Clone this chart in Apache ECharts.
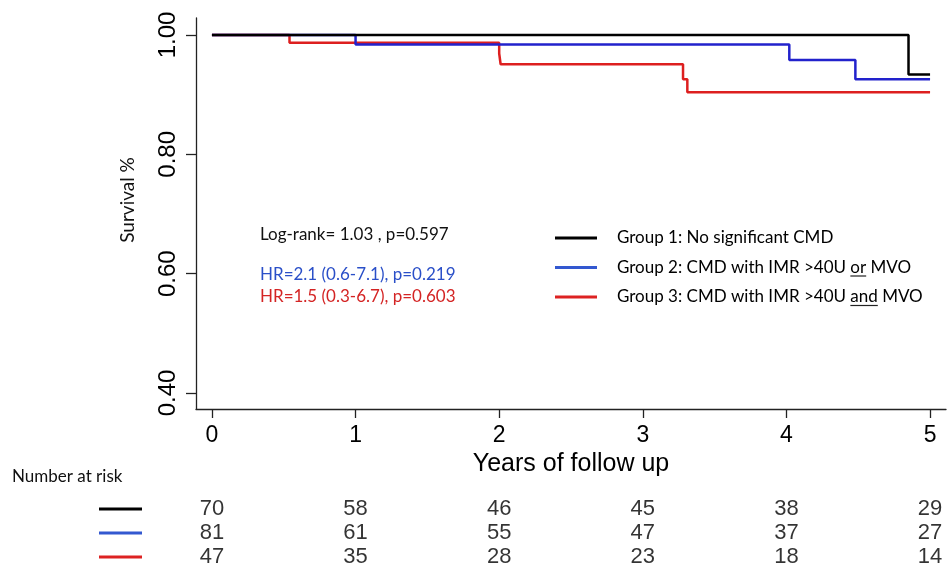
<!DOCTYPE html>
<html>
<head>
<meta charset="utf-8">
<script src="https://cdn.jsdelivr.net/npm/echarts@6/dist/echarts.min.js"></script>
<style>
html,body{margin:0;padding:0;background:#fff;}
#c{width:951px;height:583px;}
</style>
</head>
<body>
<div id="c"></div>
<script>
// ---- data ----
const groupNames = [
  'Group 1: No significant CMD',
  'Group 2: CMD with IMR >40U or MVO',
  'Group 3: CMD with IMR >40U and MVO'
];
const g1Time = [0, 4.85, 5.0];
const g1Surv = [1.0, 0.934, 0.934];
const g2Time = [0, 1.0, 4.02, 4.48, 5.0];
const g2Surv = [1.0, 0.984, 0.958, 0.926, 0.926];
const g3Time = [0, 0.54, 2.0, 2.01, 3.28, 3.31, 5.0];
const g3Surv = [1.0, 0.987, 0.969, 0.951, 0.926, 0.904, 0.904];

const xTicks = [0, 1, 2, 3, 4, 5];
const yTicks = [0.4, 0.6, 0.8, 1.0];
const riskYears = [0, 1, 2, 3, 4, 5];
const riskG1 = [70, 58, 46, 45, 38, 29];
const riskG2 = [81, 61, 55, 47, 37, 27];
const riskG3 = [47, 35, 28, 23, 18, 14];
const riskRows = ['g1', 'g2', 'g3'];

const annotLogRank = 'Log-rank= 1.03 , p=0.597';
const annotHR2 = 'HR=2.1 (0.6-7.1), p=0.219';
const annotHR3 = 'HR=1.5 (0.3-6.7), p=0.603';

// ---- styling ----
const colors = ['#000000', '#2222cc', '#dd1f1f'];
const tableLineColors = ['#000000', '#3358d0', '#dd2222'];
const legendColors = ['#000000', '#3358d0', '#dd2222'];
const helv = 'Liberation Sans, Arial, Helvetica, sans-serif';
const cal = 'Lato, Open Sans, sans-serif';
const xMin = -0.111, xMax = 5.111, yMin = 0.3732, yMax = 1.0285;

const zip = (t, s) => t.map((v, i) => [v, s[i]]);
const kmSeries = [zip(g1Time, g1Surv), zip(g2Time, g2Surv), zip(g3Time, g3Surv)];
const riskData = [riskG1, riskG2, riskG3];

const series = [];
kmSeries.forEach((d, i) => {
  series.push({
    name: groupNames[i], type: 'line', step: 'end', data: d,
    xAxisIndex: 0, yAxisIndex: 0, showSymbol: false, symbol: 'none',
    lineStyle: { color: colors[i], width: 2.5 }, itemStyle: { color: legendColors[i] },
    z: 3 - i + 2
  });
});
riskData.forEach((arr, i) => {
  series.push({
    name: 'risk' + i, type: 'scatter', xAxisIndex: 1, yAxisIndex: 1,
    symbolSize: 0,
    data: riskYears.map((yv, j) => [yv, riskRows[i], arr[j]]),
    label: { show: true, position: 'inside', formatter: p => String(p.value[2]),
      color: '#000', fontFamily: helv, fontSize: 22 },
    itemStyle: { color: 'transparent' }
  });
});

// measure text for underlines
const cv = document.createElement('canvas').getContext('2d');
const legFont = '17px Lato';
cv.font = legFont;
const legTextX = 617;
const rowY = [238, 267.5, 297];
function ul(prefix, word, row) {
  const x0 = legTextX + cv.measureText(prefix).width;
  const x1 = x0 + cv.measureText(word).width;
  return { type: 'line', shape: { x1: x0, y1: rowY[row] + 8.5, x2: x1, y2: rowY[row] + 8.5 },
    style: { stroke: '#222', lineWidth: 1.2 }, silent: true };
}

const chart = echarts.init(document.getElementById('c'), null, { renderer: 'canvas' });
chart.setOption({
  animation: false,
  backgroundColor: '#fff',
  grid: [
    { left: 196, right: 5, top: 18, bottom: 174 },
    { left: 196, right: 5, top: 497, height: 72 }
  ],
  xAxis: [
    { type: 'value', gridIndex: 0, min: xMin, max: xMax,
      axisLine: { show: true, onZero: false, lineStyle: { color: '#222', width: 1.3 } },
      axisTick: { show: true, customValues: xTicks, length: 9, lineStyle: { color: '#222', width: 1.3 } },
      axisLabel: { customValues: xTicks, margin: 15, color: '#000', fontFamily: helv, fontSize: 23 },
      splitLine: { show: false },
      name: 'Years of follow up', nameLocation: 'middle', nameGap: 41,
      nameTextStyle: { color: '#000', fontFamily: helv, fontSize: 25 } },
    { type: 'value', gridIndex: 1, min: xMin, max: xMax, show: false }
  ],
  yAxis: [
    { type: 'value', gridIndex: 0, min: yMin, max: yMax,
      axisLine: { show: true, onZero: false, lineStyle: { color: '#222', width: 1.3 } },
      axisTick: { show: true, customValues: yTicks, length: 10, lineStyle: { color: '#222', width: 1.3 } },
      axisLabel: { customValues: yTicks, rotate: 90, margin: 16, color: '#000', fontFamily: helv, fontSize: 24,
        formatter: v => v.toFixed(2) },
      splitLine: { show: false } },
    { type: 'category', gridIndex: 1, data: riskRows, inverse: true,
      axisLine: { show: false }, axisTick: { show: false }, splitLine: { show: false },
      axisLabel: { margin: 54, formatter: v => '{' + v + '|}',
        rich: {
          g1: { backgroundColor: tableLineColors[0], width: 43, height: 3 },
          g2: { backgroundColor: tableLineColors[1], width: 43, height: 3 },
          g3: { backgroundColor: tableLineColors[2], width: 43, height: 3 }
        } } }
  ],
  legend: {
    data: groupNames, orient: 'vertical', left: 555, top: rowY[0] - 10, padding: 0,
    icon: 'rect', itemWidth: 42, itemHeight: 3, itemGap: 9.5,
    textStyle: { color: '#000', fontFamily: cal, fontSize: 17, lineHeight: 20, padding: [0, 0, 0, 15] },
    selectedMode: false
  },
  graphic: [
    { type: 'text', x: 128, y: 200, rotation: Math.PI / 2,
      style: { text: 'Survival %', fill: '#111', font: '19px Lato', align: 'center', verticalAlign: 'middle' } },
    { type: 'text', left: 12, top: 468, style: { text: 'Number at risk', fill: '#111', font: '17px Lato' } },
    { type: 'text', x: 260, y: 235, style: { text: annotLogRank, fill: '#111', font: '17px Lato', verticalAlign: 'middle' } },
    { type: 'text', x: 260, y: 275, style: { text: annotHR2, fill: '#2a4fc8', font: '17px Lato', verticalAlign: 'middle' } },
    { type: 'text', x: 260, y: 297, style: { text: annotHR3, fill: '#d42424', font: '17px Lato', verticalAlign: 'middle' } },
    ul('Group 2: CMD with IMR >40U ', 'or', 1),
    ul('Group 3: CMD with IMR >40U ', 'and', 2)
  ],
  series: series
});
</script>
</body>
</html>
